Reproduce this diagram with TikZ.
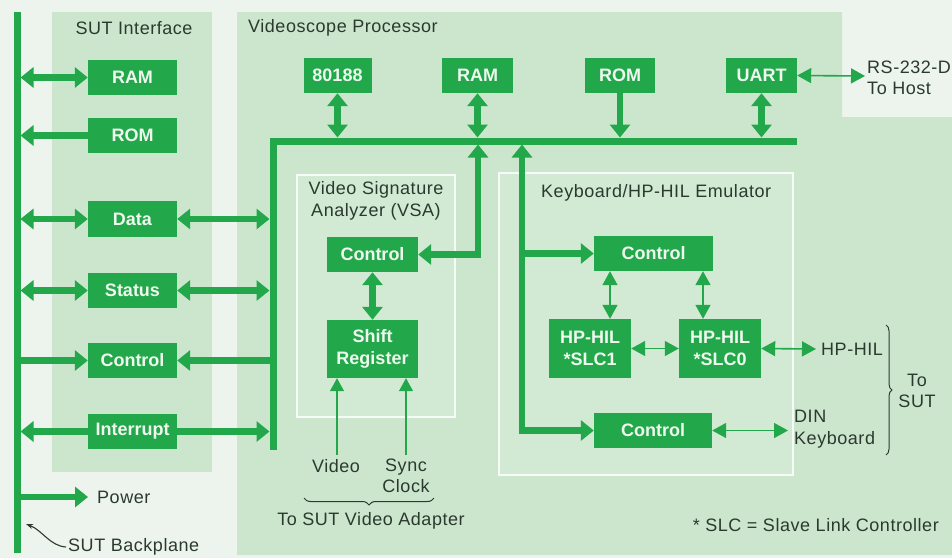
\documentclass[tikz,border=0pt]{standalone}
\usepackage{fontspec}
\setmainfont{Liberation Sans}
\usetikzlibrary{arrows.meta,decorations.pathreplacing,calc}
\definecolor{bg}{HTML}{EDF4ED}
\definecolor{panel}{HTML}{CCE6CE}
\definecolor{innerc}{HTML}{D2EAD4}
\definecolor{gr}{HTML}{22A84A}
\definecolor{txt}{HTML}{2A3A2E}
\definecolor{btxt}{HTML}{EEF8EE}
\begin{document}
\begin{tikzpicture}[x=1pt,y=-1pt,
  gbox/.style={fill=gr, text=btxt, font=\fontsize{18}{21.5}\selectfont\bfseries, inner sep=0pt, align=center},
  lbl/.style={text=txt, font=\fontsize{18}{21.5}\selectfont\addfontfeature{LetterSpace=3}, inner sep=0pt, align=center},
  fat/.style={draw=gr, line width=6.5pt, >={Triangle[width=20pt,length=13pt]}},
  bar/.style={draw=gr, line width=7pt},
  thin/.style={draw=gr, line width=1.6pt, >={Triangle[width=15pt,length=14pt]}},
  vline/.style={draw=gr, line width=1.2pt, >={Triangle[width=14pt,length=13pt]}},
  panelbox/.style={fill=panel, draw=none},
  innerbox/.style={fill=innerc, draw=white!85!panel, line width=2.5pt}
]
% background
\fill[bg] (0,0) rectangle (952,558);
\useasboundingbox (0,0) rectangle (952,558);
% panels
\fill[panel] (52,12) rectangle (212,472);
\fill[panel] (237,12) -- (842,12) -- (842,117) -- (952,117) -- (952,555) -- (237,555) -- cycle;
\draw[innerbox] (297,175) rectangle (455,417);
\draw[innerbox] (499,173) rectangle (793,475);

% titles
\node[lbl] (tsut) at (134,28) {SUT Interface};
\node[lbl, anchor=west] (tproc) at (248,28) {Videoscope Processor};
\node[lbl] (tvsa) at (376,201) {Video Signature\\Analyzer (VSA)};
\node[lbl, anchor=west] (tkb) at (541,193) {Keyboard/HP-HIL Emulator};

% backplane and buses
\coordinate (bpT) at (17,12);
\coordinate (bpB) at (17,553);
\draw[bar] (bpT) -- (bpB);
\coordinate (vbT) at (273,137.5);
\coordinate (vbB) at (273,450);
\draw[bar] (vbT) -- (vbB);
\coordinate (hbL) at (269.5,141);
\coordinate (hbR) at (797,141);
\draw[bar] (hbL) -- (hbR);

% SUT interface boxes
\node[gbox, minimum width=89pt, minimum height=35pt] (sram) at (132.5,77.5) {RAM};
\node[gbox, minimum width=89pt, minimum height=35pt] (srom) at (132.5,135.5) {ROM};
\node[gbox, minimum width=89pt, minimum height=36pt] (sdata) at (132.5,219) {Data};
\node[gbox, minimum width=89pt, minimum height=35pt] (sstat) at (132.5,290.5) {Status};
\node[gbox, minimum width=89pt, minimum height=35pt] (sctrl) at (132.5,360.5) {Control};
\node[gbox, minimum width=89pt, minimum height=35pt] (sint) at (132.5,431.5) {Interrupt};

\coordinate (b1) at (20.5,77.5);
\coordinate (b2) at (20.5,135.5);
\coordinate (b3) at (20.5,219);
\coordinate (b4) at (20.5,290.5);
\coordinate (b5) at (20.5,360.5);
\coordinate (b6) at (20.5,431.5);
\coordinate (b7) at (20.5,497);
\coordinate (v3) at (269.5,219);
\coordinate (v4) at (269.5,290.5);
\coordinate (v5) at (269.5,360.5);
\coordinate (v6) at (269.5,431.5);

\draw[fat,<->] (b1) -- (sram.west);
\draw[fat,->] (srom.west) -- (b2);
\draw[fat,<->] (b3) -- (sdata.west);
\draw[fat,<->] (sdata.east) -- (v3);
\draw[fat,<->] (b4) -- (sstat.west);
\draw[fat,<->] (sstat.east) -- (v4);
\draw[fat,->] (b5) -- (sctrl.west);
\draw[fat,->] (v5) -- (sctrl.east);
\draw[fat,->] (sint.west) -- (b6);
\draw[fat,->] (sint.east) -- (v6);

\node[lbl, anchor=west] (power) at (97,497) {Power};
\coordinate (pw) at (88,497);
\draw[fat,->] (b7) -- (pw);

\node[lbl, anchor=west] (sbp) at (68,547) {SUT Backplane};
\coordinate (sbpTip) at (26,524);
\draw[txt, line width=1.1pt, -{Stealth[length=7pt,width=5pt]}] ($(sbp.west)+(-2,0)$) .. controls (50,546) and (42,530) .. (sbpTip);

% processor top row
\node[gbox, minimum width=68pt, minimum height=35pt] (p80) at (337.5,75.5) {80188};
\node[gbox, minimum width=71pt, minimum height=35pt] (pram) at (477.5,75.5) {RAM};
\node[gbox, minimum width=70pt, minimum height=35pt] (prom) at (620,75.5) {ROM};
\node[gbox, minimum width=71pt, minimum height=35pt] (puart) at (761.5,75.5) {UART};

\coordinate (h80) at (337.5,137.5);
\coordinate (hram) at (477.5,137.5);
\coordinate (hrom) at (620,137.5);
\coordinate (huart) at (761.5,137.5);
\draw[fat,<->] (p80.south) -- (h80);
\draw[fat,<->] (pram.south) -- (hram);
\draw[fat,->] (prom.south) -- (hrom);
\draw[fat,<->] (puart.south) -- (huart);

\node[lbl, anchor=west, align=left] (rs) at (867,78) {RS-232-D\\To Host};
\coordinate (rsin) at (865,76);
\draw[thin,<->] (puart.east) -- (rsin);

% VSA
\node[gbox, minimum width=91pt, minimum height=35pt] (vctrl) at (372.5,254.5) {Control};
\node[gbox, minimum width=91pt, minimum height=58pt] (vshift) at (372.5,349) {Shift\\Register};
\draw[fat,<->] (vctrl.south) -- (vshift.north);
\coordinate (hvsa) at (478,144.5);
\draw[fat,<->, line join=miter] (hvsa) |- (vctrl.east);

\node[lbl] (video) at (336,466) {Video};
\node[lbl] (sync) at (406,476) {Sync\\Clock};
\coordinate (vidL) at (337,455);
\coordinate (syncL) at (406,455);
\draw[vline,->] (vidL) -- (vidL |- vshift.south);
\draw[vline,->] (syncL) -- (syncL |- vshift.south);
\coordinate (brL) at (304,498);
\coordinate (brR) at (434,498);
\draw[txt, line width=1pt, decorate, decoration={brace, amplitude=7pt}] (brR) -- (brL);
\node[lbl] (tosv) at (371,521) {To SUT Video Adapter};

% Keyboard / HP-HIL
\node[gbox, minimum width=119pt, minimum height=35pt] (kctrl) at (653.5,253.5) {Control};
\node[gbox, minimum width=82pt, minimum height=59pt] (kslc1) at (590,348.5) {HP-HIL\\*SLC1};
\node[gbox, minimum width=82pt, minimum height=59pt] (kslc0) at (720,348.5) {HP-HIL\\*SLC0};
\node[gbox, minimum width=118pt, minimum height=35pt] (kctrl2) at (653,430.5) {Control};

\coordinate (hkb) at (522,144.5);
\coordinate (kbr) at (522,253.5);
\draw[fat,<->, line join=miter] (hkb) |- (kctrl2.west);
\draw[fat,->] (kbr) -- (kctrl.west);

\draw[thin,<->] (kctrl.south -| 610,0) -- (kslc1.north -| 610,0);
\draw[thin,<->] (kctrl.south -| 703,0) -- (kslc0.north -| 703,0);
\draw[thin,<->] (kslc1.east) -- (kslc0.west);

\node[lbl, anchor=west] (hphil) at (821,349) {HP-HIL};
\coordinate (hpin) at (816,349);
\draw[thin,<->] (kslc0.east) -- (hpin);

\node[lbl, anchor=west, align=left] (din) at (794,429) {DIN\\Keyboard};
\coordinate (dinin) at (788,430.5);
\draw[thin,<->] (kctrl2.east) -- (dinin);

\coordinate (rbT) at (886,325);
\coordinate (rbB) at (886,455);
\draw[txt, line width=1pt, decorate, decoration={brace, amplitude=6pt}] (rbT) -- (rbB);
\node[lbl] (tosut) at (917,391) {To\\SUT};

\node[lbl, anchor=east] (foot) at (939,525) {* SLC = Slave Link Controller};
\end{tikzpicture}
\end{document}
